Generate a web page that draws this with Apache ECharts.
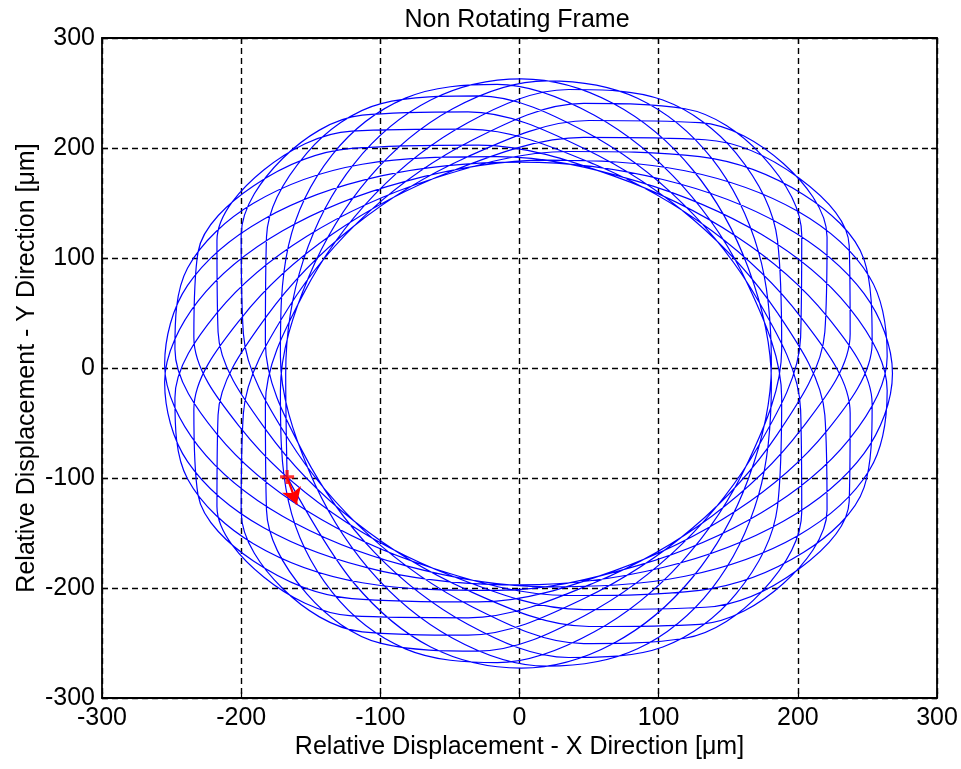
<!DOCTYPE html>
<html>
<head>
<meta charset="utf-8">
<title>Non Rotating Frame</title>
<script src="https://cdn.jsdelivr.net/npm/echarts@6/dist/echarts.min.js"></script>
<style>
  html, body { margin: 0; padding: 0; background: #ffffff; }
  #chart { width: 961px; height: 769px; }
</style>
</head>
<body>
<div id="chart"></div>
<script>
// Axis ticks (µm)
const xTicks = [-300, -200, -100, 0, 100, 200, 300];
const yTicks = [-300, -200, -100, 0, 100, 200, 300];

// Orbit trace, relative displacement in µm, 16 samples per revolution
// (one row per revolution; first and last values are the start point)
const orbitX = [
  -167,
  -118.7, -63.8, 1.4, 67.4, 124.6, 164.4, 181.0, 171.8, 138.2, 84.8, 19.6, -48.0, -108.0, -151.4, -171.8, -166.0,
  -134.6, -82.0, -16.0, 53.8, 117.1, 164.4, 188.4, 185.4, 155.6, 103.0, 35.4, -37.2, -104.2, -155.2, -182.6, -181.8,
  -152.8, -99.4, -29.6, 46.4, 117.1, 171.8, 202.0, 202.8, 173.8, 118.9, 46.2, -33.4, -108.0, -166.0, -198.4, -200.0,
  -170.2, -113.0, -37.0, 46.4, 124.6, 185.4, 219.4, 221.0, 189.6, 129.6, 50.0, -37.2, -118.7, -181.8, -216.6, -217.4,
  -183.8, -120.5, -37.0, 53.8, 138.2, 202.8, 237.6, 236.9, 200.3, 133.4, 46.2, -48.0, -134.6, -200.0, -234.0, -231.0,
  -191.2, -120.5, -29.6, 67.4, 155.6, 221.0, 253.4, 247.6, 204.2, 129.6, 35.4, -63.8, -152.8, -217.4, -247.6, -238.5,
  -191.2, -113.0, -16.0, 84.8, 173.8, 236.9, 264.2, 251.4, 200.3, 118.9, 19.6, -82.0, -170.2, -231.0, -255.0, -238.5,
  -183.8, -99.4, 1.4, 103.0, 189.6, 247.6, 268.0, 247.6, 189.6, 103.0, 1.4, -99.4, -183.8, -238.5, -255.0, -231.0,
  -170.2, -82.0, 19.6, 118.9, 200.3, 251.4, 264.2, 236.9, 173.8, 84.8, -16.0, -113.0, -191.2, -238.5, -247.6, -217.4,
  -152.8, -63.8, 35.4, 129.6, 204.2, 247.6, 253.4, 221.0, 155.6, 67.4, -29.6, -120.5, -191.2, -231.0, -234.0, -200.0,
  -134.6, -48.0, 46.2, 133.4, 200.3, 236.9, 237.6, 202.8, 138.2, 53.8, -37.0, -120.5, -183.8, -217.4, -216.6, -181.8,
  -118.7, -37.2, 50.0, 129.6, 189.6, 221.0, 219.4, 185.4, 124.6, 46.4, -37.0, -113.0, -170.2, -200.0, -198.4, -166.0,
  -108.0, -33.4, 46.2, 118.9, 173.8, 202.8, 202.0, 171.8, 117.1, 46.4, -29.6, -99.4, -152.8, -181.8, -182.6, -155.2,
  -104.2, -37.2, 35.4, 103.0, 155.6, 185.4, 188.4, 164.4, 117.1, 53.8, -16.0, -82.0, -134.6, -166.0, -171.8, -151.4,
  -108.0, -48.0, 19.6, 84.8, 138.2, 171.8, 181.0, 164.4, 124.6, 67.4, 1.4, -63.8, -118.7, -155.2, -168.0,
  -167
];
const orbitY = [
  -99,
  -195.9, -253.6, -272.8, -250.4, -190.0, -100.9, 2.9, 105.4, 190.5, 245.3, 261.1, 235.7, 173.1, 83.0, -20.5, -121.3,
  -203.8, -255.3, -267.9, -239.8, -175.5, -85.1, 17.3, 115.9, 195.4, 243.6, 253.2, 223.0, 157.6, 67.6, -33.2, -129.2,
  -205.4, -250.4, -257.3, -225.4, -159.7, -70.7, 27.9, 120.8, 193.8, 235.7, 240.5, 207.5, 142.2, 54.8, -41.1, -130.8,
  -200.5, -239.8, -242.9, -209.6, -145.3, -60.1, 32.8, 119.2, 185.9, 223.0, 225.0, 192.1, 129.4, 46.9, -42.8, -125.9,
  -190.0, -225.4, -227.1, -195.2, -134.7, -55.2, 31.1, 111.3, 173.1, 207.5, 209.6, 179.3, 121.5, 45.2, -37.9, -115.4,
  -175.5, -209.6, -212.7, -184.6, -129.8, -56.9, 23.2, 98.5, 157.6, 192.1, 196.8, 171.4, 119.8, 50.1, -27.3, -100.9,
  -159.7, -195.2, -202.1, -179.7, -131.5, -64.8, 10.5, 83.0, 142.2, 179.3, 188.9, 169.7, 124.7, 60.7, -12.9, -85.1,
  -145.3, -184.6, -197.2, -181.4, -139.4, -77.6, -5.0, 67.6, 129.4, 171.4, 187.2, 174.6, 135.3, 75.1, 2.9, -70.7,
  -134.7, -179.7, -198.9, -189.3, -152.2, -93.0, -20.5, 54.8, 121.5, 169.7, 192.1, 185.2, 149.7, 90.9, 17.3, -60.1,
  -129.8, -181.4, -206.8, -202.1, -167.6, -108.5, -33.2, 46.9, 119.8, 174.6, 202.7, 199.6, 165.5, 105.4, 27.9, -55.2,
  -131.5, -189.3, -219.6, -217.5, -183.1, -121.3, -41.1, 45.2, 124.7, 185.2, 217.1, 215.4, 180.0, 115.9, 32.8, -56.9,
  -139.4, -202.1, -235.0, -233.0, -195.9, -129.2, -42.8, 50.1, 135.3, 199.6, 232.9, 229.8, 190.5, 120.8, 31.1, -64.8,
  -152.2, -217.5, -250.5, -245.7, -203.8, -130.8, -37.9, 60.7, 149.7, 215.4, 247.3, 240.4, 195.4, 119.2, 23.2, -77.6,
  -167.6, -233.0, -263.2, -253.6, -205.4, -125.9, -27.3, 75.1, 165.5, 229.8, 257.9, 245.3, 193.8, 111.3, 10.5, -93.0,
  -183.1, -245.7, -271.1, -255.3, -200.5, -115.4, -12.9, 90.9, 180.0, 240.4, 262.8, 243.6, 185.9, 98.5, -5.0,
  -99
];

// Start of the trace and the direction-of-whirl arrow
const startPoint = [-167, -99];
const arrowTip = [-160, -124];

const FONT = '"Liberation Sans", Arial, Helvetica, sans-serif';
const FONT_SIZE = 25;
const orbitData = orbitX.map((x, i) => [x, orbitY[i]]);

const chart = echarts.init(document.getElementById('chart'), null, { renderer: 'canvas' });

const gridDash = { color: '#000000', width: 1.4, type: [6, 4] };
const boxLine = { show: true, onZero: false, lineStyle: { color: '#000000', width: 1.8 } };
const innerTick = { show: true, inside: true, length: 6, lineStyle: { color: '#000000', width: 1.2 } };

chart.setOption({
  animation: false,
  backgroundColor: '#ffffff',
  title: {
    text: 'Non Rotating Frame',
    left: 512,
    top: 3,
    textAlign: 'center',
    textStyle: { fontFamily: FONT, fontSize: FONT_SIZE, fontWeight: 'normal', color: '#000000' }
  },
  grid: { left: 102, right: 24, top: 38, bottom: 71, containLabel: false },
  xAxis: [
    {
      type: 'value', position: 'bottom',
      min: xTicks[0], max: xTicks[xTicks.length - 1], interval: 100,
      axisLine: boxLine, axisTick: innerTick,
      axisLabel: { fontFamily: FONT, fontSize: FONT_SIZE, color: '#000000', margin: 8 },
      splitLine: { show: true, lineStyle: gridDash },
      name: 'Relative Displacement - X Direction [μm]',
      nameLocation: 'middle', nameGap: 37, nameMoveOverlap: false,
      nameTextStyle: { fontFamily: FONT, fontSize: FONT_SIZE, color: '#000000' }
    },
    {
      type: 'value', position: 'top',
      min: xTicks[0], max: xTicks[xTicks.length - 1], interval: 100,
      axisLine: boxLine, axisTick: innerTick,
      axisLabel: { show: false }, splitLine: { show: false }
    }
  ],
  yAxis: [
    {
      type: 'value', position: 'left',
      min: yTicks[0], max: yTicks[yTicks.length - 1], interval: 100,
      axisLine: boxLine, axisTick: innerTick,
      axisLabel: { fontFamily: FONT, fontSize: FONT_SIZE, color: '#000000', margin: 7 },
      splitLine: { show: true, lineStyle: gridDash },
      name: 'Relative Displacement - Y Direction [μm]',
      nameLocation: 'middle', nameGap: 62, nameMoveOverlap: false,
      nameTextStyle: { fontFamily: FONT, fontSize: FONT_SIZE, color: '#000000' }
    },
    {
      type: 'value', position: 'right',
      min: yTicks[0], max: yTicks[yTicks.length - 1], interval: 100,
      axisLine: boxLine, axisTick: innerTick,
      axisLabel: { show: false }, splitLine: { show: false }
    }
  ],
  series: [
    {
      name: 'Orbit',
      type: 'line',
      xAxisIndex: 0, yAxisIndex: 0,
      data: orbitData,
      showSymbol: false,
      symbol: 'none',
      smooth: 0.34,
      lineStyle: { color: '#0000ff', width: 1.2 },
      z: 3
    },
    {
      name: 'Direction',
      type: 'line',
      xAxisIndex: 0, yAxisIndex: 0,
      data: [],
      markLine: {
        silent: true,
        symbol: ['none', 'arrow'],
        symbolSize: [15, 16],
        label: { show: false },
        lineStyle: { color: '#ff0000', width: 2.2, type: 'solid' },
        data: [[{ coord: startPoint }, { coord: arrowTip }]]
      },
      z: 5
    },
    {
      name: 'Start',
      type: 'scatter',
      xAxisIndex: 0, yAxisIndex: 0,
      data: [startPoint],
      symbol: 'path://M-1.5,-6.5H1.5V-1.5H6.5V1.5H1.5V6.5H-1.5V1.5H-6.5V-1.5H-1.5Z',
      symbolSize: [14, 14],
      itemStyle: { color: '#ff0000' },
      z: 6
    }
  ]
});
</script>
</body>
</html>
